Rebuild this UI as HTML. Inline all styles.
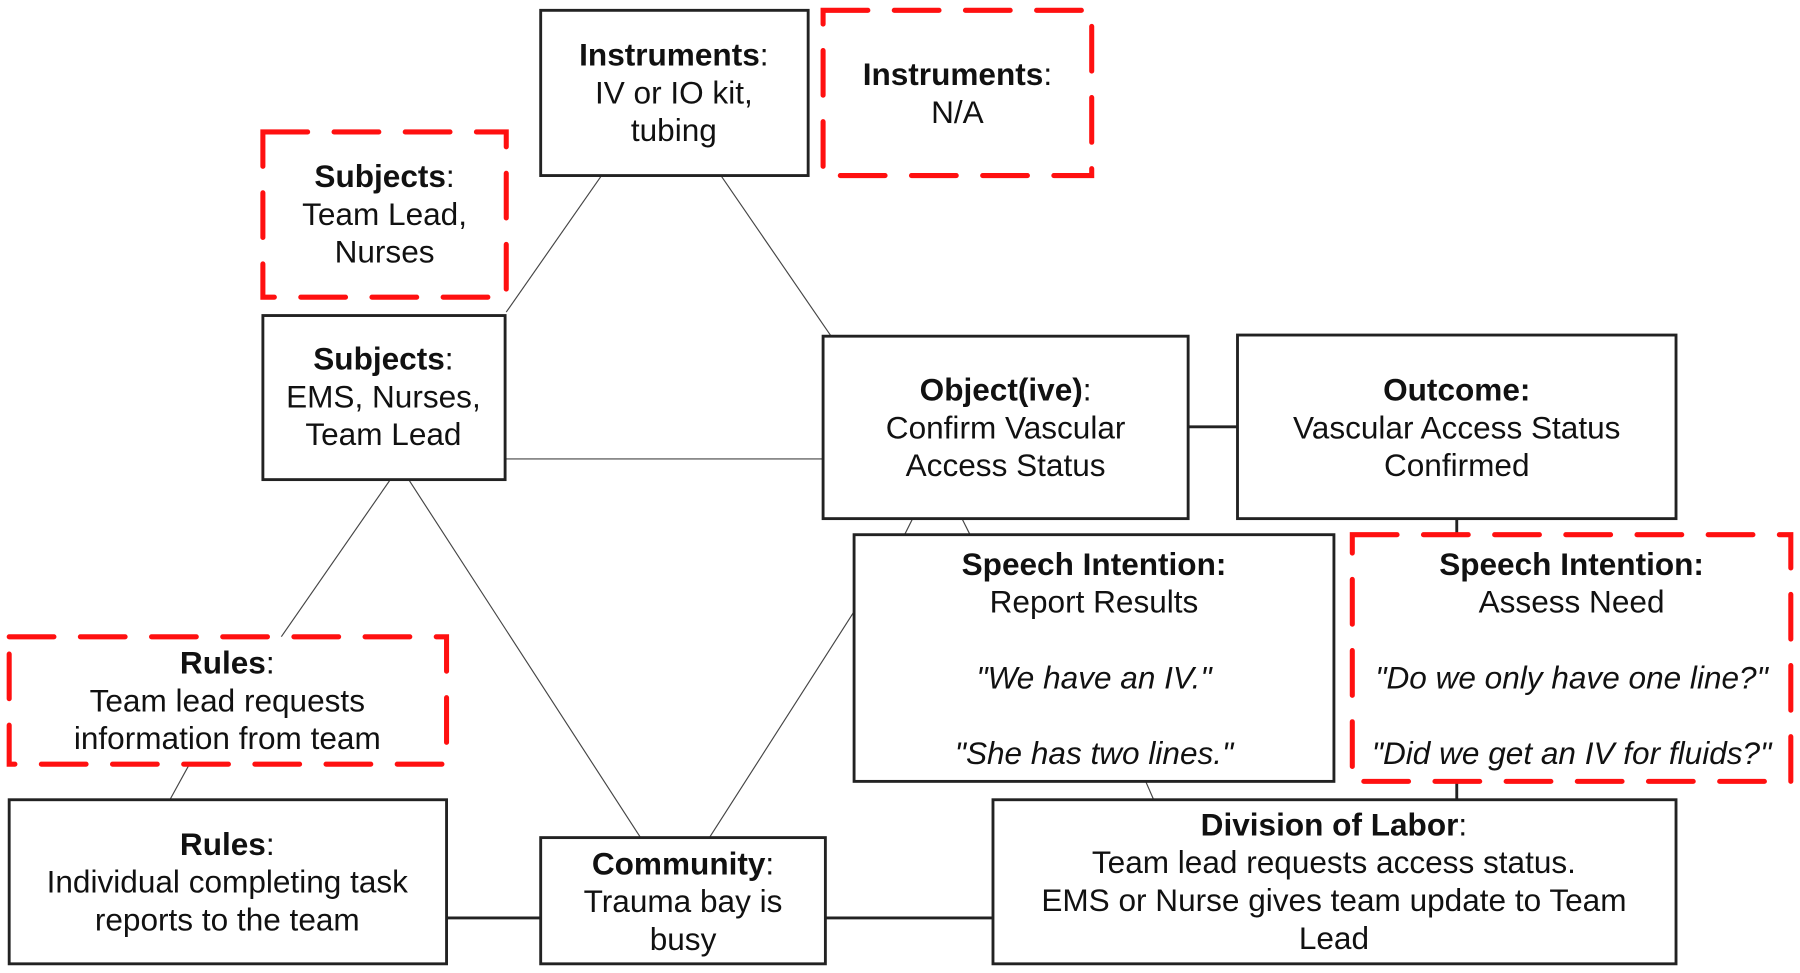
<!DOCTYPE html>
<html><head><meta charset="utf-8"><style>
html,body{margin:0;padding:0;background:#fff;}
svg{display:block;}
text{font-family:"Liberation Sans",Arial,sans-serif;font-size:27.5px;fill:#111;text-anchor:middle;}
.b{font-weight:bold;}
.i{font-style:italic;}
.box{fill:#fff;stroke:#222;stroke-width:2.5;}
.dash{fill:#fff;stroke:#ff1010;stroke-width:4.4;stroke-dasharray:39 23;stroke-linecap:round;}
.thin{stroke:#444;stroke-width:1;}
.thick{stroke:#222;stroke-width:2.5;}
</style></head><body>
<svg width="1800" height="973" viewBox="0 0 1568 848" preserveAspectRatio="none" xmlns="http://www.w3.org/2000/svg">
<line class="thin" x1="441" y1="272" x2="524" y2="153"/>
<line class="thin" x1="628" y1="153" x2="724" y2="293"/>
<line class="thin" x1="440" y1="400" x2="717" y2="400"/>
<line class="thin" x1="340" y1="418" x2="245" y2="555"/>
<line class="thin" x1="356" y1="418" x2="558" y2="730"/>
<line class="thin" x1="618" y1="730" x2="744" y2="533"/>
<line class="thin" x1="788" y1="466" x2="795" y2="452"/>
<line class="thin" x1="845" y1="466" x2="838" y2="452"/>
<line class="thin" x1="998" y1="681" x2="1005" y2="697"/>
<line class="thin" x1="165" y1="666" x2="148" y2="697"/>
<line class="thick" x1="1035" y1="372" x2="1078" y2="372"/>
<line class="thick" x1="1269" y1="452" x2="1269" y2="466"/>
<line class="thick" x1="1269" y1="681" x2="1269" y2="697"/>
<line class="thick" x1="389" y1="800" x2="471" y2="800"/>
<line class="thick" x1="719" y1="800" x2="865" y2="800"/>

<rect class="box" x="471" y="9" width="233" height="144"/>
<text x="587" y="57"><tspan class="b">Instruments</tspan>:</text>
<text x="587" y="90">IV or IO kit,</text>
<text x="587" y="123">tubing</text>

<rect class="dash" x="717" y="9" width="234" height="144"/>
<text x="834" y="74"><tspan class="b">Instruments</tspan>:</text>
<text x="834" y="107">N/A</text>

<rect class="dash" x="229" y="115" width="212" height="144"/>
<text x="335" y="163"><tspan class="b">Subjects</tspan>:</text>
<text x="335" y="196">Team Lead,</text>
<text x="335" y="229">Nurses</text>

<rect class="box" x="229" y="275" width="211" height="143"/>
<text x="334" y="322"><tspan class="b">Subjects</tspan>:</text>
<text x="334" y="355">EMS, Nurses,</text>
<text x="334" y="388">Team Lead</text>

<rect class="box" x="717" y="293" width="318" height="159"/>
<text x="876" y="349"><tspan class="b">Object(ive)</tspan>:</text>
<text x="876" y="382">Confirm Vascular</text>
<text x="876" y="415">Access Status</text>

<rect class="box" x="1078" y="292" width="382" height="160"/>
<text x="1269" y="349" class="b">Outcome:</text>
<text x="1269" y="382">Vascular Access Status</text>
<text x="1269" y="415">Confirmed</text>

<rect class="box" x="744" y="466" width="418" height="215"/>
<text x="953" y="501" class="b">Speech Intention:</text>
<text x="953" y="534">Report Results</text>
<text x="953" y="600" class="i">"We have an IV."</text>
<text x="953" y="666" class="i">"She has two lines."</text>

<rect class="dash" x="1178" y="466" width="382" height="215"/>
<text x="1369" y="501" class="b">Speech Intention:</text>
<text x="1369" y="534">Assess Need</text>
<text x="1369" y="600" class="i">"Do we only have one line?"</text>
<text x="1369" y="666" class="i">"Did we get an IV for fluids?"</text>

<rect class="dash" x="8" y="555" width="381" height="111"/>
<text x="198" y="587"><tspan class="b">Rules</tspan>:</text>
<text x="198" y="620">Team lead requests</text>
<text x="198" y="653">information from team</text>

<rect class="box" x="8" y="697" width="381" height="143"/>
<text x="198" y="745"><tspan class="b">Rules</tspan>:</text>
<text x="198" y="778">Individual completing task</text>
<text x="198" y="811">reports to the team</text>

<rect class="box" x="471" y="730" width="248" height="110"/>
<text x="595" y="762"><tspan class="b">Community</tspan>:</text>
<text x="595" y="795">Trauma bay is</text>
<text x="595" y="828">busy</text>

<rect class="box" x="865" y="697" width="595" height="143"/>
<text x="1162" y="728"><tspan class="b">Division of Labor</tspan>:</text>
<text x="1162" y="761">Team lead requests access status.</text>
<text x="1162" y="794">EMS or Nurse gives team update to Team</text>
<text x="1162" y="827">Lead</text>
</svg>
</body></html>
